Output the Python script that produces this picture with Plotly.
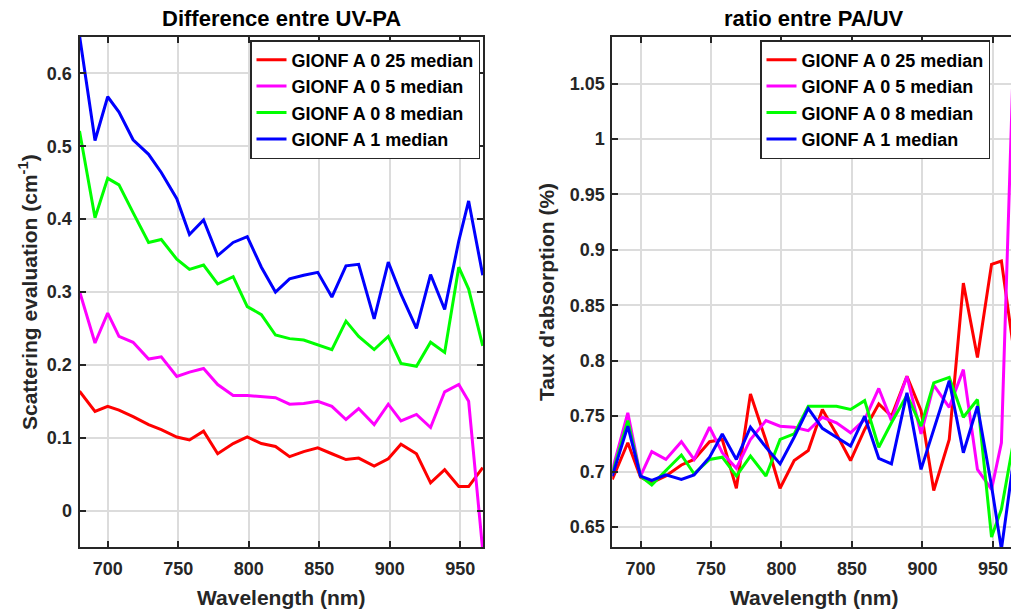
import plotly.graph_objects as go

# ---------------- data ----------------
wavelength = [680, 691, 700, 708, 718, 729, 738, 749, 758, 768,
              778, 789, 799, 809, 819, 829, 839, 849, 859, 869,
              878, 889, 899, 908, 919, 929, 939, 949, 956, 966]

series_names = ["GIONF A 0 25 median", "GIONF A 0 5 median",
                "GIONF A 0 8 median", "GIONF A 1 median"]

# Left panel: Difference entre UV-PA (scattering, cm^-1)
diff_025 = [0.164, 0.136, 0.143, 0.138, 0.129, 0.118, 0.111, 0.101, 0.097, 0.109,
            0.078, 0.092, 0.101, 0.092, 0.088, 0.074, 0.081, 0.086, 0.078, 0.070,
            0.072, 0.061, 0.071, 0.091, 0.078, 0.038, 0.056, 0.033, 0.033, 0.059]
diff_05 = [0.301, 0.230, 0.271, 0.239, 0.231, 0.208, 0.211, 0.184, 0.190, 0.195,
           0.173, 0.158, 0.158, 0.156, 0.155, 0.146, 0.147, 0.150, 0.143, 0.125,
           0.140, 0.118, 0.146, 0.123, 0.132, 0.114, 0.163, 0.173, 0.150, -0.055]
diff_08 = [0.521, 0.402, 0.456, 0.447, 0.409, 0.368, 0.372, 0.345, 0.331, 0.337,
           0.311, 0.321, 0.280, 0.269, 0.241, 0.236, 0.234, 0.228, 0.221, 0.260,
           0.239, 0.221, 0.239, 0.202, 0.198, 0.231, 0.217, 0.334, 0.304, 0.226]
diff_1 = [0.652, 0.508, 0.568, 0.547, 0.509, 0.489, 0.464, 0.428, 0.379, 0.399,
          0.350, 0.368, 0.376, 0.334, 0.300, 0.318, 0.323, 0.327, 0.293, 0.336,
          0.338, 0.263, 0.341, 0.297, 0.250, 0.324, 0.276, 0.370, 0.425, 0.323]

# Right panel: ratio entre PA/UV
ratio_025 = [0.693, 0.726, 0.695, 0.690, 0.696, 0.706, 0.711, 0.727, 0.729, 0.685,
             0.770, 0.728, 0.685, 0.710, 0.719, 0.756, 0.734, 0.710, 0.738, 0.761,
             0.750, 0.786, 0.755, 0.683, 0.729, 0.870, 0.803, 0.887, 0.890, 0.798]
ratio_05 = [0.701, 0.753, 0.696, 0.718, 0.711, 0.727, 0.711, 0.740, 0.717, 0.703,
            0.729, 0.746, 0.741, 0.740, 0.737, 0.749, 0.744, 0.735, 0.747, 0.775,
            0.746, 0.786, 0.734, 0.778, 0.758, 0.792, 0.702, 0.684, 0.726, 1.133]
ratio_08 = [0.698, 0.746, 0.696, 0.688, 0.701, 0.715, 0.698, 0.711, 0.713, 0.696,
            0.714, 0.696, 0.729, 0.734, 0.759, 0.759, 0.759, 0.756, 0.764, 0.722,
            0.744, 0.769, 0.741, 0.780, 0.785, 0.749, 0.765, 0.641, 0.666, 0.737]
ratio_1 = [0.696, 0.741, 0.696, 0.692, 0.697, 0.693, 0.697, 0.713, 0.734, 0.711,
           0.740, 0.722, 0.707, 0.731, 0.757, 0.739, 0.731, 0.723, 0.750, 0.712,
           0.707, 0.771, 0.702, 0.738, 0.782, 0.717, 0.759, 0.687, 0.630, 0.723]

x_ticks = [700, 750, 800, 850, 900, 950]
left_y_ticks = [0, 0.1, 0.2, 0.3, 0.4, 0.5, 0.6]
left_y_labels = ["0", "0.1", "0.2", "0.3", "0.4", "0.5", "0.6"]
right_y_ticks = [0.65, 0.7, 0.75, 0.8, 0.85, 0.9, 0.95, 1.0, 1.05]
right_y_labels = ["0.65", "0.7", "0.75", "0.8", "0.85", "0.9", "0.95", "1", "1.05"]

colors = ["#ff0000", "#ff00ff", "#00ff00", "#0000ff"]

# ---------------- figure ----------------
W, H = 1011, 612


def fx(px):
    return px / W


def fy(py):
    return 1 - py / H


FAM = "Liberation Sans, Arial, sans-serif"
INK = "#262626"

fig = go.Figure()
for name, ys, c in zip(series_names, [diff_025, diff_05, diff_08, diff_1], colors):
    fig.add_trace(go.Scatter(x=wavelength, y=ys, mode="lines", name=name,
                             line=dict(color=c, width=3),
                             xaxis="x", yaxis="y", legend="legend"))
for name, ys, c in zip(series_names, [ratio_025, ratio_05, ratio_08, ratio_1], colors):
    fig.add_trace(go.Scatter(x=wavelength, y=ys, mode="lines", name=name,
                             line=dict(color=c, width=3),
                             xaxis="x2", yaxis="y2", legend="legend2"))

tickfont = dict(family=FAM, size=18, color=INK, weight="bold")
common = dict(showgrid=True, gridcolor="#dcdcdc", gridwidth=1.5,
              showline=True, linecolor=INK, linewidth=2,
              ticks="inside", ticklen=6, tickwidth=1.5, tickcolor=INK,
              zeroline=False, tickfont=tickfont, automargin=False,
              ticklabeloverflow="allow")

ydom = [fy(547), fy(37)]

fig.update_layout(
    width=W, height=H,
    margin=dict(l=0, r=0, t=0, b=0),
    paper_bgcolor="white", plot_bgcolor="white",
    xaxis=dict(domain=[fx(79.5), fx(483.3)], range=[680, 966.4], anchor="y",
               tickvals=x_ticks, mirror="ticks", ticklabelstandoff=4, **common),
    yaxis=dict(domain=ydom, range=[-0.05, 0.65], anchor="x",
               tickvals=left_y_ticks, ticktext=left_y_labels, mirror="ticks",
               ticklabelstandoff=2, **common),
    xaxis2=dict(domain=[fx(612.3), 1.0], range=[680, 962.8], anchor="y2",
                tickvals=x_ticks, mirror="ticks", ticklabelstandoff=4, **common),
    yaxis2=dict(domain=ydom, range=[0.632, 1.092], anchor="x2",
                tickvals=right_y_ticks, ticktext=right_y_labels, mirror=False,
                ticklabelstandoff=2, **common),
    legend=dict(x=fx(250), y=fy(40), xanchor="left", yanchor="top",
                bgcolor="white", bordercolor=INK, borderwidth=1.5,
                font=dict(family=FAM, size=18, color="black", weight="bold"),
                itemwidth=30, tracegroupgap=0),
    legend2=dict(x=fx(760), y=fy(40), xanchor="left", yanchor="top",
                 bgcolor="white", bordercolor=INK, borderwidth=1.5,
                 font=dict(family=FAM, size=18, color="black", weight="bold"),
                 itemwidth=30, tracegroupgap=0),
    showlegend=True,
)

title_font = dict(family=FAM, size=22, color="black", weight="bold")
label_font = dict(family=FAM, size=21, color=INK, weight="bold")
annotations = [
    dict(text="Difference entre UV-PA", x=fx(281), y=fy(18), font=title_font),
    dict(text="ratio entre PA/UV", x=fx(814), y=fy(18), font=title_font),
    dict(text="Wavelength (nm)", x=fx(281), y=fy(597), font=label_font),
    dict(text="Wavelength (nm)", x=fx(814), y=fy(597), font=label_font),
    dict(text="Scattering evaluation (cm<sup>-1</sup>)", x=fx(28), y=fy(292),
         font=label_font, textangle=-90),
    dict(text="Taux d'absorption (%)", x=fx(546), y=fy(292),
         font=label_font, textangle=-90),
]
for a in annotations:
    a.update(xref="paper", yref="paper", showarrow=False,
             xanchor="center", yanchor="middle")
fig.update_layout(annotations=annotations)

# remove the default page margin so the 1011x612 figure fills the window exactly
fig.write_html("out.html",
               config={"displayModeBar": False},
               post_script="document.body.style.margin='0';"
                           "document.body.style.overflow='hidden';")
